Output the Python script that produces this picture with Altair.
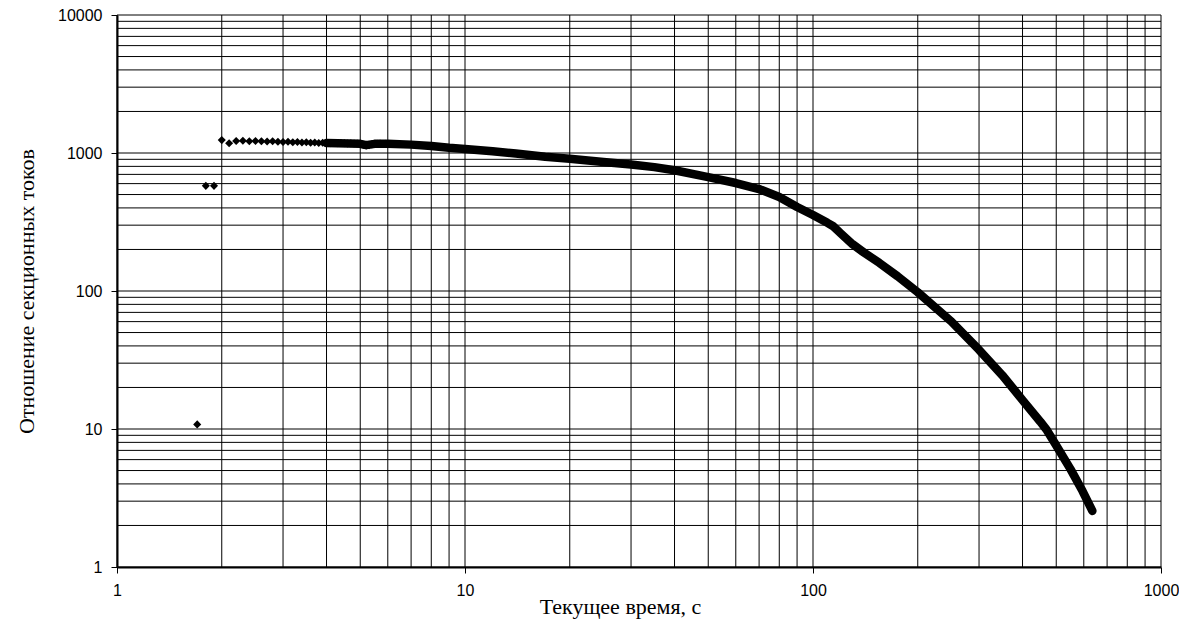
import altair as alt
import pandas as pd

# Early individual samples (0.1 s step)
T_PTS = [1.7, 1.8, 1.9, 2.0, 2.1, 2.2, 2.3, 2.4, 2.5, 2.6, 2.7, 2.8, 2.9, 3.0,
         3.1, 3.2, 3.3, 3.4, 3.5, 3.6, 3.7, 3.8, 3.9, 4.0, 4.1, 4.2, 4.3, 4.4,
         4.5, 4.6, 4.7, 4.8, 4.9, 5.0, 5.1, 5.2, 5.3, 5.4, 5.5, 5.6, 5.7, 5.8,
         5.9, 6.0]
V_PTS = [10.8, 578, 578, 1240, 1175, 1220, 1225, 1215, 1222, 1215, 1210, 1215, 1205, 1200,
         1205, 1195, 1200, 1190, 1195, 1185, 1190, 1180, 1185, 1180, 1175, 1180, 1175, 1180,
         1175, 1170, 1175, 1170, 1172, 1165, 1145, 1135, 1140, 1155, 1168, 1165, 1170, 1162,
         1165, 1160]

# Dense part of the record (drawn as a thick band)
T_CURVE = [4, 5, 5.2, 5.5, 6, 7, 8, 9, 10, 12, 14, 17, 20, 25, 30, 35, 40,
           50, 60, 70, 80, 90, 100, 110, 114, 120, 130, 140, 155, 175, 200, 250,
           300, 350, 400, 450, 470, 500, 550, 595, 635]
V_CURVE = [1180, 1165, 1140, 1165, 1165, 1150, 1125, 1090, 1068, 1030, 990, 940,
           910, 862, 825, 790, 750, 668, 606, 548, 480, 406, 355, 312, 296, 262, 218, 190,
           160, 128, 98, 60, 37.5, 24.5, 16.2, 11.3, 9.8, 7.6, 5.1, 3.55, 2.55]

GRID_X = [1, 2, 3, 4, 5, 6, 7, 8, 9, 10, 20, 30, 40, 50, 60, 70, 80, 90,
          100, 200, 300, 400, 500, 600, 700, 800, 900, 1000]
GRID_Y = [1, 2, 3, 4, 5, 6, 7, 8, 9, 10, 20, 30, 40, 50, 60, 70, 80, 90,
          100, 200, 300, 400, 500, 600, 700, 800, 900,
          1000, 2000, 3000, 4000, 5000, 6000, 7000, 8000, 9000, 10000]

X_TICKS = [1, 10, 100, 1000]
Y_TICKS = [1, 10, 100, 1000, 10000]

X_TITLE = "Текущее время, с"
Y_TITLE = "Отношение секционных токов"

pts = pd.DataFrame({"t": T_PTS, "v": V_PTS})
curve = pd.DataFrame({"t": T_CURVE, "v": V_CURVE})
gx = pd.DataFrame({"g": GRID_X})
gy = pd.DataFrame({"g": GRID_Y})

xscale = alt.Scale(type="log", domain=[1, 1000], nice=False)
yscale = alt.Scale(type="log", domain=[1, 10000], nice=False)

common = dict(
    grid=False, labelFont="Liberation Sans", labelFontSize=16, labelColor="black",
    labelFlush=False, labelOverlap=False, format="d",
    tickColor="black", tickSize=6, tickWidth=1,
    domainColor="black", domainWidth=2,
    titleFont="Liberation Serif", titleFontSize=22, titleFontWeight="normal",
    titleColor="black",
)
xaxis = alt.Axis(values=X_TICKS, title=X_TITLE, labelPadding=9,
                 titleX=503, titleY=39, titleAlign="center", titleBaseline="middle",
                 **common)
yaxis = alt.Axis(values=Y_TICKS, title=Y_TITLE, labelPadding=9,
                 titleX=-91, titleY=276, titleAlign="center", titleBaseline="middle",
                 titleAngle=270, **common)

vgrid = alt.Chart(gx).mark_rule(color="black", strokeWidth=1).encode(
    x=alt.X("g:Q", scale=xscale, axis=xaxis)
)
hgrid = alt.Chart(gy).mark_rule(color="black", strokeWidth=1).encode(
    y=alt.Y("g:Q", scale=yscale, axis=yaxis)
)
band = alt.Chart(curve).mark_line(color="black", strokeWidth=8.5, strokeCap="round",
                                  strokeJoin="round").encode(
    x=alt.X("t:Q", scale=xscale, axis=xaxis),
    y=alt.Y("v:Q", scale=yscale, axis=yaxis),
)
dots = alt.Chart(pts).mark_point(shape="diamond", filled=True, size=65, color="black",
                                 opacity=1).encode(
    x=alt.X("t:Q", scale=xscale, axis=xaxis),
    y=alt.Y("v:Q", scale=yscale, axis=yaxis),
)

chart = alt.layer(vgrid, hgrid, band, dots).properties(
    width=1044, height=552,
    padding={"left": 109, "top": 7, "right": 18, "bottom": 57},
    autosize=alt.AutoSizeParams(type="none"),
    background="white",
).configure_view(stroke=None)

chart.save("out.html", embed_options={"renderer": "svg", "actions": False})
